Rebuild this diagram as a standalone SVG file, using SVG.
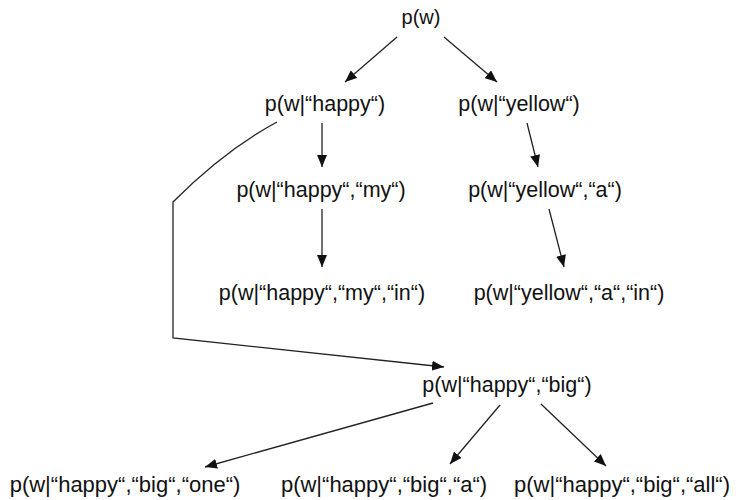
<svg xmlns="http://www.w3.org/2000/svg" width="740" height="500" viewBox="0 0 740 500">
  <defs>
    <marker id="arrow" viewBox="0 0 12 10" refX="12" refY="5" markerWidth="12" markerHeight="10" markerUnits="userSpaceOnUse" orient="auto">
      <path d="M0,0 L12,5 L0,10 Z" fill="#111"/>
    </marker>
    <style>
      text { font-family: "Liberation Sans", Arial, Helvetica, sans-serif; font-size: 21.5px; fill: #111; text-anchor: middle; }
      .leaf { font-size: 22px; }
      .edge { fill: none; stroke: #222; stroke-width: 1.3; }
      .arr { marker-end: url(#arrow); }
    </style>
  </defs>
  <rect width="740" height="500" fill="#fff"/>

  <!-- connectors -->
  <g id="edges">
    <line class="edge arr" x1="397" y1="37" x2="345" y2="82"/>
    <line class="edge arr" x1="444" y1="37" x2="497" y2="82"/>
    <line class="edge arr" x1="322" y1="123" x2="322" y2="167"/>
    <line class="edge arr" x1="527" y1="123" x2="538" y2="167"/>
    <line class="edge arr" x1="322" y1="209" x2="322" y2="267"/>
    <line class="edge arr" x1="549" y1="209" x2="564" y2="267"/>
    <path class="edge arr" d="M277,122 Q225,150 173,202 L173,338 L444,367"/>
    <line class="edge arr" x1="433" y1="403" x2="205" y2="467"/>
    <line class="edge arr" x1="500" y1="405" x2="450" y2="464"/>
    <line class="edge arr" x1="541" y1="404" x2="606" y2="466"/>
  </g>

  <!-- nodes -->
  <g id="n-root"><text x="421" y="24" style="font-size:20px">p(w)</text></g>
  <g id="n-happy"><text x="325" y="111">p(w|“happy“)</text></g>
  <g id="n-yellow"><text x="519" y="111">p(w|“yellow“)</text></g>
  <g id="n-happy-my"><text x="321" y="197">p(w|“happy“,“my“)</text></g>
  <g id="n-yellow-a"><text x="545" y="197">p(w|“yellow“,“a“)</text></g>
  <g id="n-happy-my-in"><text x="322" y="300">p(w|“happy“,“my“,“in“)</text></g>
  <g id="n-yellow-a-in"><text x="569" y="300">p(w|“yellow“,“a“,“in“)</text></g>
  <g id="n-happy-big"><text x="507" y="392">p(w|“happy“,“big“)</text></g>
  <g id="n-happy-big-one"><text class="leaf" x="125" y="492">p(w|“happy“,“big“,“one“)</text></g>
  <g id="n-happy-big-a"><text class="leaf" x="384" y="492">p(w|“happy“,“big“,“a“)</text></g>
  <g id="n-happy-big-all"><text class="leaf" x="622" y="492">p(w|“happy“,“big“,“all“)</text></g>
</svg>
